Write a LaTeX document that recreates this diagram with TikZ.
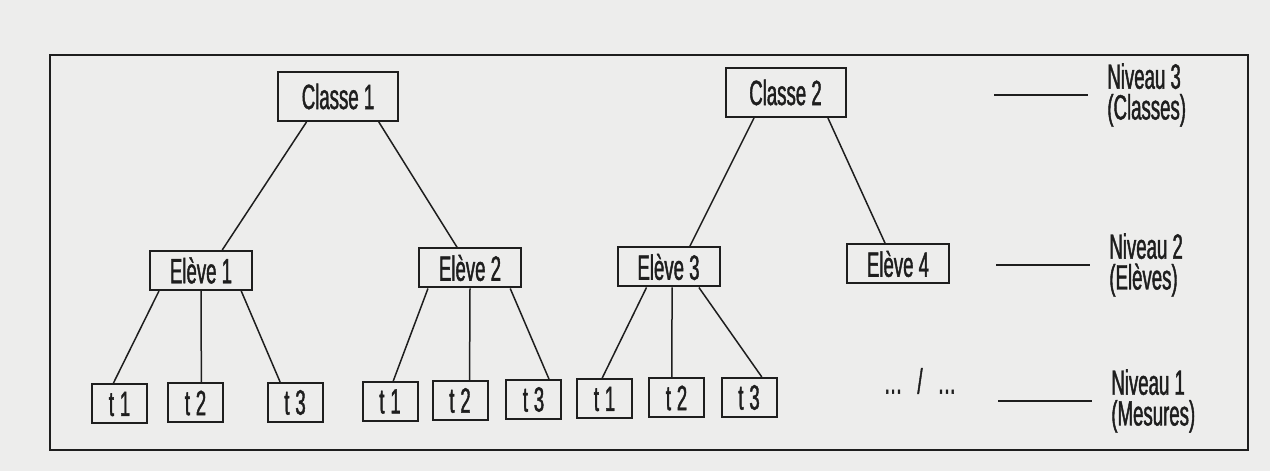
\documentclass[tikz,border=0pt]{standalone}
\usepackage{fontspec}
\newfontfamily\narrowfont{Liberation Sans}[FakeStretch=0.53, FakeBold=1.2]
\usetikzlibrary{positioning}
\definecolor{paper}{RGB}{237,237,236}
\definecolor{ink}{RGB}{30,30,30}

\begin{document}
\begin{tikzpicture}[
		font=\narrowfont\fontsize{20}{17.5}\selectfont,
		every node/.style={text=ink},
		box/.style={draw=ink, line width=0.04cm, inner sep=0pt},
		classe/.style={box, minimum width=2.4cm, minimum height=0.98cm},
		eleve/.style={box, minimum width=2.04cm, minimum height=0.78cm},
		mesure/.style={box, minimum width=1.1cm, minimum height=0.78cm},
		link/.style={draw=ink, line width=0.03cm},
		niveau/.style={align=left, inner sep=0pt, anchor=west}]
			\fill[paper] (0,0) rectangle (25.4,9.42);
			\draw[ink, line width=0.05cm] (1.00,0.42) rectangle (24.96,8.32);

			\node (c1) at (6.76, 7.49) [classe] {Classe 1};
			\node (c2) at (15.71, 7.57) [classe] {Classe 2};

			\node (e1) at (4.02, 4.01) [eleve] {Elève 1};
			\node (e2) at (9.40, 4.06) [eleve] {Elève 2};
			\node (e3) at (13.37, 4.08) [eleve] {Elève 3};
			\node (e4) at (17.96, 4.14) [eleve] {Elève 4};

			\node (t11) at (2.39, 1.34) [mesure] {t\,1};
			\node (t12) at (3.91, 1.36) [mesure] {t\,2};
			\node (t13) at (5.90, 1.37) [mesure] {t\,3};
			\node (t21) at (7.80, 1.39) [mesure] {t\,1};
			\node (t22) at (9.20, 1.41) [mesure] {t\,2};
			\node (t23) at (10.67, 1.43) [mesure] {t\,3};
			\node (t31) at (12.09, 1.44) [mesure] {t\,1};
			\node (t32) at (13.53, 1.46) [mesure] {t\,2};
			\node (t33) at (14.98, 1.47) [mesure] {t\,3};
			\node (etc) at (18.40, 1.80) {\dots\hspace{0.3cm}/\hspace{0.3cm}\dots};

			\node (n3) at (22.14, 7.52) [niveau] {Niveau 3\\(Classes)};
			\node (n2) at (22.18, 4.12) [niveau] {Niveau 2\\(Elèves)};
			\node (n1) at (22.22, 1.40) [niveau] {Niveau 1\\(Mesures)};
			\coordinate (l3) at (19.88, 7.52);
			\coordinate (l2) at (19.92, 4.12);
			\coordinate (l1) at (19.96, 1.40);

			\draw[link] (c1.219) -- (e1.44);
			\draw[link] (c1.328) -- (e2.122);
			\draw[link] (c2.219) -- (e3.44);
			\draw[link] (c2.329) -- (e4.122);

			\draw[link] (e1.206) -- (t11.107);
			\draw[link] (e1.270) -- (t12.74);
			\draw[link] (e1.333) -- (t13.126);
			\draw[link] (e2.206) -- (t21.81);
			\draw[link] (e2.270) -- (t22.65);
			\draw[link] (e2.333) -- (t23.53);
			\draw[link] (e3.223) -- (t31.97);
			\draw[link] (e3.280) -- (t32.103);
			\draw[link] (e3.326) -- (t33.58);

			\draw[link, line width=0.035cm] (l3) -- ([xshift=-0.38cm]n3.west);
			\draw[link, line width=0.035cm] (l2) -- ([xshift=-0.38cm]n2.west);
			\draw[link, line width=0.035cm] (l1) -- ([xshift=-0.38cm]n1.west);
		\end{tikzpicture}
\end{document}
